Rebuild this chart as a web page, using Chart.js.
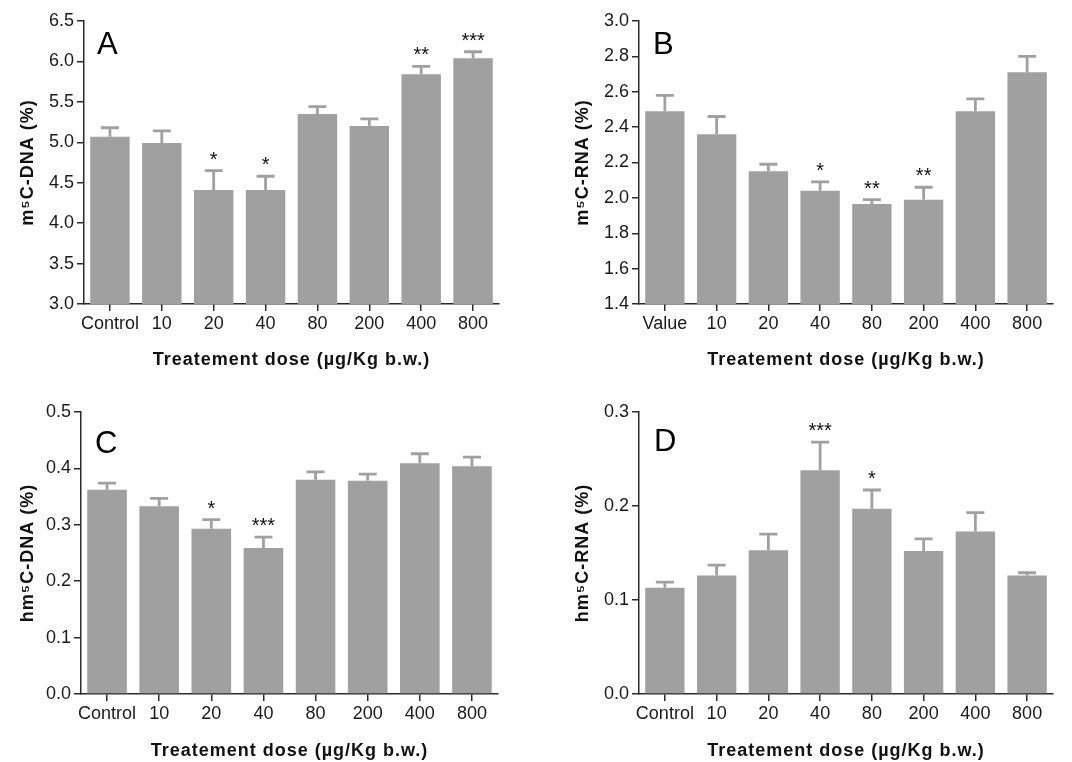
<!DOCTYPE html>
<html><head><meta charset="utf-8">
<script src="https://cdn.jsdelivr.net/npm/chart.js@4.4.1/dist/chart.umd.min.js"></script>
<style>
html,body{margin:0;padding:0;background:#fff;}
#wrap{position:relative;width:1072px;height:762px;overflow:hidden;}
.p{position:absolute;width:536px;height:381px;}
canvas{display:block;}
</style></head><body>
<div id="wrap">
<div class="p" style="left:0;top:0"><canvas id="cA" width="536" height="381"></canvas></div>
<div class="p" style="left:536px;top:0"><canvas id="cB" width="536" height="381"></canvas></div>
<div class="p" style="left:0;top:381px"><canvas id="cC" width="536" height="381"></canvas></div>
<div class="p" style="left:536px;top:381px"><canvas id="cD" width="536" height="381"></canvas></div>
</div>
<script>
// ---- data ----
const dosesCtrl = ['Control','10','20','40','80','200','400','800'];
const dosesValue = ['Value','10','20','40','80','200','400','800'];

const m5cDnaMean = [5.07, 4.99, 4.41, 4.41, 5.35, 5.20, 5.84, 6.04];
const m5cDnaSem  = [0.11, 0.15, 0.24, 0.17, 0.09, 0.09, 0.10, 0.08];
const m5cDnaSig  = ['', '', '*', '*', '', '', '**', '***'];

const m5cRnaMean = [2.49, 2.36, 2.15, 2.04, 1.965, 1.99, 2.49, 2.71];
const m5cRnaSem  = [0.09, 0.10, 0.04, 0.05, 0.025, 0.07, 0.07, 0.09];
const m5cRnaSig  = ['', '', '', '*', '**', '**', '', ''];

const hm5cDnaMean = [0.362, 0.333, 0.293, 0.259, 0.380, 0.378, 0.409, 0.404];
const hm5cDnaSem  = [0.012, 0.014, 0.016, 0.019, 0.014, 0.012, 0.017, 0.016];
const hm5cDnaSig  = ['', '', '*', '***', '', '', '', ''];

const hm5cRnaMean = [0.113, 0.126, 0.153, 0.238, 0.197, 0.152, 0.173, 0.126];
const hm5cRnaSem  = [0.006, 0.011, 0.017, 0.030, 0.020, 0.013, 0.020, 0.003];
const hm5cRnaSig  = ['', '', '', '***', '*', '', '', ''];

const xTitle = 'Treatement dose (µg/Kg b.w.)';

// ---- styling ----
const FONT = '"Liberation Sans", Arial, Helvetica, sans-serif';
Chart.defaults.font.family = FONT;
const BAR = '#a0a0a0';
const AXIS = '#2b2b2b';

const errPlugin = {
  id: 'errbars',
  afterDatasetsDraw(chart, args, opts) {
    const ctx = chart.ctx;
    const meta = chart.getDatasetMeta(0);
    const ys = chart.scales.y;
    const ds = chart.data.datasets[0];
    ctx.save();
    ctx.strokeStyle = BAR;
    ctx.lineWidth = 2.8;
    ctx.lineCap = 'butt';
    meta.data.forEach((bar, i) => {
      const v = ds.data[i], e = ds.sem[i];
      const yTop = ys.getPixelForValue(v + e);
      const yBar = ys.getPixelForValue(v);
      ctx.beginPath();
      ctx.moveTo(bar.x, yBar);
      ctx.lineTo(bar.x, yTop);
      ctx.moveTo(bar.x - 9, yTop);
      ctx.lineTo(bar.x + 9, yTop);
      ctx.stroke();
      const s = ds.sig[i];
      if (s) {
        ctx.fillStyle = '#111';
        ctx.font = '20px ' + FONT;
        ctx.textAlign = 'center';
        ctx.textBaseline = 'alphabetic';
        ctx.fillText(s, bar.x, yTop - 5);
      }
    });
    ctx.fillStyle = '#000';
    ctx.font = '31px ' + FONT;
    ctx.textAlign = 'left';
    ctx.textBaseline = 'alphabetic';
    ctx.fillText(opts.letter, chart.chartArea.left + opts.lx, chart.chartArea.top + opts.ly);
    ctx.restore();
  }
};

function spaceTitle(s) {
  if (s._spaced) return;
  const orig = s.drawTitle.bind(s);
  s.drawTitle = function () {
    const c = this.ctx;
    c.save();
    if ('letterSpacing' in c) c.letterSpacing = '1px';
    orig();
    c.restore();
  };
  s._spaced = true;
}

function makeChart(id, p) {
  const gridOpts = {
    display: true, drawOnChartArea: false, drawTicks: true,
    tickLength: 7, color: AXIS, lineWidth: 1.5, offset: false
  };
  return new Chart(document.getElementById(id), {
    type: 'bar',
    data: {
      labels: p.labels,
      datasets: [{
        data: p.mean, sem: p.sem, sig: p.sig,
        backgroundColor: BAR, borderWidth: 0,
        categoryPercentage: 1.0, barPercentage: 0.76
      }]
    },
    options: {
      responsive: false, animation: false, devicePixelRatio: 1,
      layout: { padding: { top: p.top, right: p.right, left: 0, bottom: 0 } },
      plugins: {
        legend: { display: false }, tooltip: { enabled: false },
        errbars: { letter: p.letter, lx: p.lx, ly: p.ly }
      },
      scales: {
        x: {
          grid: gridOpts,
          border: { display: true, color: AXIS, width: 1.5 },
          ticks: { font: { size: 18 }, color: '#1a1a1a', padding: 2, maxRotation: 0, autoSkip: false },
          title: { display: true, text: xTitle, color: '#111',
                   font: { size: 18, weight: 'bold' }, padding: { top: 0, bottom: p.xtPad } },
          afterFit(s) { s.height = p.xh; spaceTitle(s); }
        },
        y: {
          min: p.min, max: p.max,
          grid: gridOpts,
          border: { display: true, color: AXIS, width: 1.5 },
          ticks: { stepSize: p.step, font: { size: 18 }, color: '#1a1a1a', padding: 3,
                   callback: v => Number(v).toFixed(1) },
          title: { display: true, text: p.ytitle, color: '#111',
                   font: { size: 18, weight: 'bold' }, padding: { top: p.ytPad, bottom: 0 } },
          afterFit(s) { s.width = p.yw; spaceTitle(s); }
        }
      }
    },
    plugins: [errPlugin]
  });
}

makeChart('cA', { labels: dosesCtrl, mean: m5cDnaMean, sem: m5cDnaSem, sig: m5cDnaSig,
  min: 3.0, max: 6.5, step: 0.5, ytitle: 'm⁵C-DNA (%)', letter: 'A',
  top: 21, right: 37, yw: 84, xh: 77, xtPad: 10, ytPad: 17, lx: 13, ly: 33 });
makeChart('cB', { labels: dosesValue, mean: m5cRnaMean, sem: m5cRnaSem, sig: m5cRnaSig,
  min: 1.4, max: 3.0, step: 0.2, ytitle: 'm⁵C-RNA (%)', letter: 'B',
  top: 21, right: 19, yw: 103, xh: 77, xtPad: 10, ytPad: 36, lx: 14, ly: 33 });
makeChart('cC', { labels: dosesCtrl, mean: hm5cDnaMean, sem: hm5cDnaSem, sig: hm5cDnaSig,
  min: 0, max: 0.5, step: 0.1, ytitle: 'hm⁵C-DNA (%)', letter: 'C',
  top: 31, right: 38, yw: 81, xh: 68, xtPad: 0.5, ytPad: 17, lx: 14, ly: 41 });
makeChart('cD', { labels: dosesCtrl, mean: hm5cRnaMean, sem: hm5cRnaSem, sig: hm5cRnaSig,
  min: 0, max: 0.3, step: 0.1, ytitle: 'hm⁵C-RNA (%)', letter: 'D',
  top: 31, right: 19, yw: 103, xh: 68, xtPad: 0.5, ytPad: 36, lx: 15, ly: 39 });
</script>
</body></html>
